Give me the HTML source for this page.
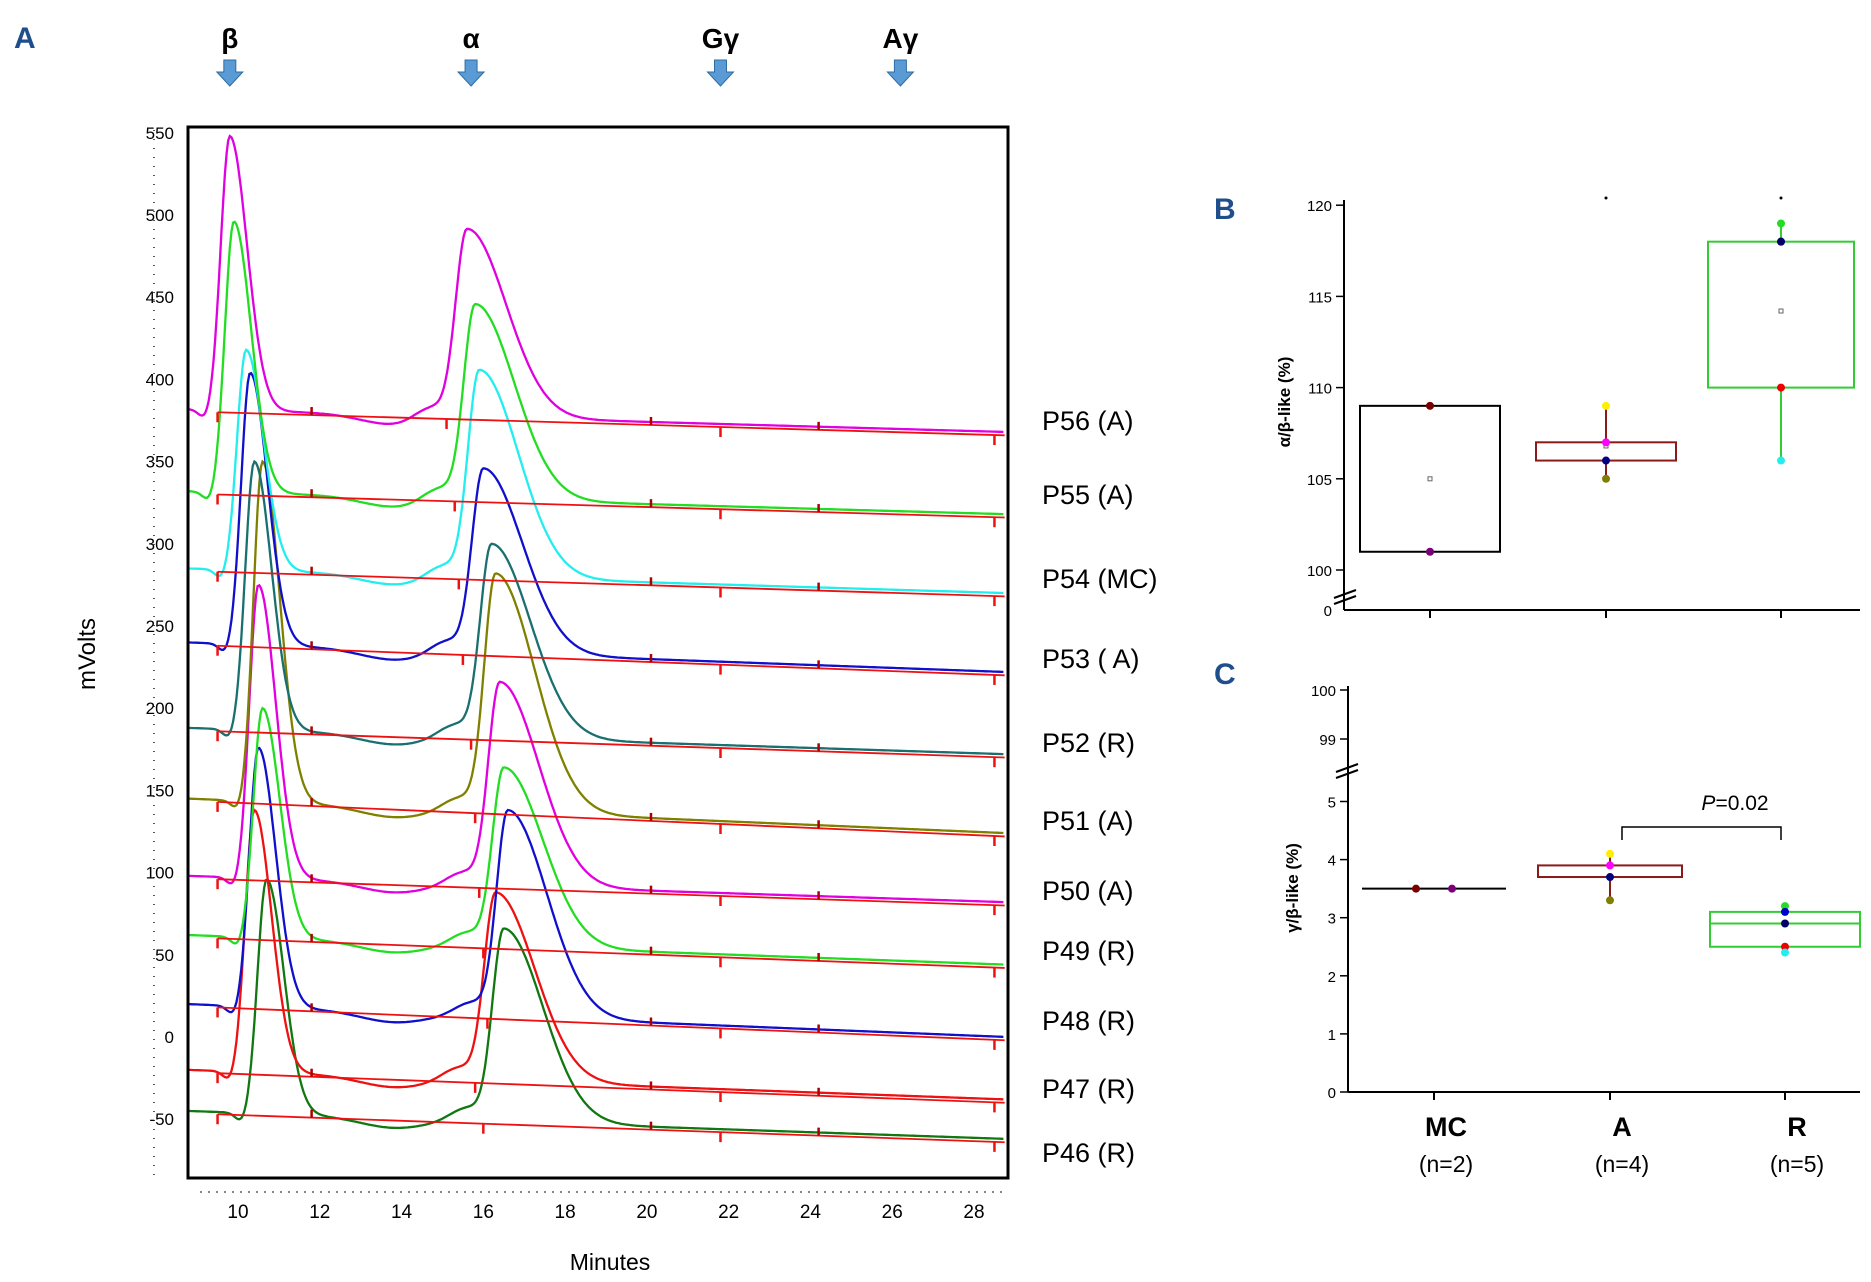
<!DOCTYPE html>
<html><head><meta charset="utf-8">
<style>
body{margin:0;background:#fff;}
svg{display:block;font-family:"Liberation Sans",sans-serif;}
</style></head>
<body>
<svg id="fig" width="1871" height="1282" viewBox="0 0 1871 1282">
<text x="14" y="48" font-size="30" font-weight="bold" fill="#1f4e8c">A</text>
<g id="arrows"></g>
<line x1="154" y1="130" x2="154" y2="1180" stroke="#555" stroke-width="2" stroke-dasharray="1,8"/>
<line x1="200" y1="1192" x2="1006" y2="1192" stroke="#888" stroke-width="2" stroke-dasharray="2,6"/>
<g id="aaxes"></g>
<g id="traces"></g>
<rect x="188" y="127" width="820" height="1051" fill="none" stroke="#000" stroke-width="3"/>
<text x="95" y="654" font-size="24" text-anchor="middle" transform="rotate(-90 95 654)">mVolts</text>
<text x="610" y="1270" font-size="23" text-anchor="middle">Minutes</text>
<g id="slabels"></g>

<text x="1214" y="219" font-size="30" font-weight="bold" fill="#1f4e8c">B</text>
<text x="1214" y="684" font-size="30" font-weight="bold" fill="#1f4e8c">C</text>
<g id="pb"></g>
<g id="pc"></g>
</svg>
<script>
// ---------- Panel A data ----------
const sampleLabels=["P56 (A)","P55 (A)","P54 (MC)","P53 ( A)","P52 (R)","P51 (A)","P50 (A)","P49 (R)","P48 (R)","P47 (R)","P46 (R)"];
const baseStart=[382,332,285,240,188,145,98,62,20,-20,-45];
const baseEnd=[368,318,270,222,172,124,82,44,0,-38,-62];
const betaTime=[9.8,9.9,10.2,10.3,10.4,10.6,10.5,10.6,10.5,10.4,10.7];
const betaHeight=[548,496,418,404,350,350,275,200,176,138,96];
const alphaTime=[15.6,15.8,15.9,16.0,16.2,16.3,16.4,16.5,16.6,16.3,16.5];
const alphaHeight=[492,446,406,346,300,282,216,164,138,88,66];
const yTicksA=[550,500,450,400,350,300,250,200,150,100,50,0,-50];
const xTicksA=[10,12,14,16,18,20,22,24,26,28];
const markerLabels=["β","α","Gγ","Aγ"];
const markerTimes=[9.8,15.7,21.8,26.2];
const traceColors=["#e000e0","#22dd22","#22eeee","#1010cc","#1a7070","#808000","#e000e0","#22dd22","#1010cc","#ee1111","#117711"];

const NS="http://www.w3.org/2000/svg";
function mk(tag,attrs,parent){const e=document.createElementNS(NS,tag);for(const k in attrs)e.setAttribute(k,attrs[k]);parent.appendChild(e);return e;}
const xA=t=>238+(t-10)*(736/18);
const yA=v=>1037-v*(82.2/50);

const aaxes=document.getElementById('aaxes');
yTicksA.forEach(v=>{const t=mk('text',{x:174,y:yA(v)+6,'font-size':17,'text-anchor':'end'},aaxes);t.textContent=v;

});
xTicksA.forEach(v=>{const t=mk('text',{x:xA(v),y:1218,'font-size':19,'text-anchor':'middle'},aaxes);t.textContent=v;

});

const arrows=document.getElementById('arrows');
markerLabels.forEach((l,i)=>{const x=xA(markerTimes[i]);
const t=mk('text',{x:x,y:48,'font-size':28,'font-weight':'bold','text-anchor':'middle'},arrows);t.textContent=l;


const p=mk('path',{d:`M${x-6} 60 h12 v12 h7 l-13 14 l-13 -14 h7 z`,fill:'#5b9bd5',stroke:'#2e6da4','stroke-width':1},arrows);

});

function g(t,mu,sl,sr){const s=t<mu?sl:sr;return Math.exp(-0.5*((t-mu)/s)**2);}
const traces=document.getElementById('traces');
const slabels=document.getElementById('slabels');
const tEnd=28.75;
for(let i=sampleLabels.length-1;i>=0;i--){
  const base=t=>baseStart[i]+(baseEnd[i]-baseStart[i])*(t-8.8)/20;
  let d="";
  for(let t=8.8;t<=tEnd;t+=0.04){
    let v=base(t);
    v+=(betaHeight[i]-base(betaTime[i]))*g(t,betaTime[i],0.22,0.42);
    v+=(alphaHeight[i]-base(alphaTime[i]))*g(t,alphaTime[i],0.28,0.95);
    v+=8*g(t,alphaTime[i]-0.9,0.4,0.3);
    v-=6*g(t,13.8,0.8,0.8);
    v-=6*g(t,betaTime[i]-0.6,0.15,0.15);
    d+=(d?"L":"M")+xA(t).toFixed(1)+" "+yA(v).toFixed(1);
  }
  const p=mk('path',{d:d,fill:'none',stroke:traceColors[i],'stroke-width':2.3},traces);
  
  
  const b1=yA(baseStart[i]-2), b2=yA(baseEnd[i]-2);
  const r=mk('line',{x1:xA(9.5),y1:b1,x2:xA(tEnd),y2:b2,stroke:'#ee1111','stroke-width':1.8},traces);
  
  
  [9.5,11.8,alphaTime[i]-0.5,20.1,21.8,24.2,28.5].forEach((tt,k)=>{const yy=b1+(b2-b1)*(tt-9.5)/(tEnd-9.5);
    const tk=mk('line',{x1:xA(tt),y1:yy+(k%2?-8:0),x2:xA(tt),y2:yy+(k%2?0:10),stroke:k%2?'#aa0000':'#ee1111','stroke-width':2.5},traces);
    
    });
  const lt=mk('text',{x:1042,y:[420,494,578,658,742,820,890,950,1020,1088,1152][i]+10,'font-size':27},slabels);lt.textContent=sampleLabels[i];
  
  
}

// ---------- Panels B & C data ----------
const groups=["MC","A","R"];
const groupN=["(n=2)","(n=4)","(n=5)"];
const bQ1=[101,106,110], bQ3=[109,107,118], bMin=[101,105,106], bMax=[109,109,119], bMean=[105,106.8,114.2];
const bPoints=[[109,101],[109,107,106,105],[119,118,118,110,106]];
const cQ1=[3.5,3.7,2.5], cQ3=[3.5,3.9,3.1], cMed=[3.5,3.7,2.9], cMin=[3.5,3.3,2.4], cMax=[3.5,4.1,3.2];
const cPoints=[[3.5,3.5],[4.1,3.9,3.7,3.3],[3.2,3.1,2.9,2.5,2.4]];
const bTicks=[100,105,110,115,120];
const cTicks=[0,1,2,3,4,5];
const boxColors=["#000","#8b1a1a","#33cc33"];
const ptColors=[["#7a0000","#7a007a"],["#ffee00","#ff00ff","#000080","#808000"],["#22dd22","#0000cc","#000066","#ee0000","#22eeee"]];
const gx=[1430,1606,1781];
const boxHalf=[70,70,73];

const yB=v=>570-18.24*(v-100);
const yC=v=>1092-58.1*v;

const pb=document.getElementById('pb');
mk('line',{x1:1344,y1:200,x2:1344,y2:610,stroke:'#000','stroke-width':2},pb);
mk('line',{x1:1344,y1:610,x2:1860,y2:610,stroke:'#000','stroke-width':2},pb);
mk('path',{d:'M1334 598 l22 -8 M1334 604 l22 -8',stroke:'#000','stroke-width':2,fill:'none'},pb);
let t0=mk('text',{x:1332,y:616,'font-size':15,'text-anchor':'end'},pb);t0.textContent="0";
bTicks.forEach(v=>{mk('line',{x1:1336,y1:yB(v),x2:1344,y2:yB(v),stroke:'#000','stroke-width':1.5},pb);
const t=mk('text',{x:1332,y:yB(v)+6,'font-size':15,'text-anchor':'end'},pb);t.textContent=v;

});
gx.forEach(x=>mk('line',{x1:x,y1:610,x2:x,y2:618,stroke:'#000','stroke-width':2},pb));
let tb=mk('text',{x:1290,y:402,'font-size':17,'font-weight':'bold','text-anchor':'middle',transform:'rotate(-90 1290 402)'},pb);tb.textContent="α/β-like (%)";


groups.forEach((gname,i)=>{const x=gx[i],h=boxHalf[i];
  mk('line',{x1:x,y1:yB(bMin[i]),x2:x,y2:yB(bQ1[i]),stroke:boxColors[i],'stroke-width':2},pb);
  mk('line',{x1:x,y1:yB(bQ3[i]),x2:x,y2:yB(bMax[i]),stroke:boxColors[i],'stroke-width':2},pb);
  const r=mk('rect',{x:x-h,y:yB(bQ3[i]),width:2*h,height:yB(bQ1[i])-yB(bQ3[i]),fill:'none',stroke:boxColors[i],'stroke-width':2},pb);
  
  
  mk('rect',{x:x-2,y:yB(bMean[i])-2,width:4,height:4,fill:'none',stroke:'#666','stroke-width':1},pb);
  bPoints[i].forEach((v,k)=>{const c=mk('circle',{cx:x,cy:yB(v),r:4,fill:ptColors[i][k]},pb);
    
    });
});
mk('circle',{cx:1606,cy:198,r:1.5,fill:'#000'},pb);mk('circle',{cx:1781,cy:198,r:1.5,fill:'#000'},pb);

const pc=document.getElementById('pc');
mk('line',{x1:1348,y1:686,x2:1348,y2:1092,stroke:'#000','stroke-width':2},pc);
mk('line',{x1:1348,y1:1092,x2:1860,y2:1092,stroke:'#000','stroke-width':2},pc);
mk('path',{d:'M1336 772 l22 -8 M1336 778 l22 -8',stroke:'#000','stroke-width':2,fill:'none'},pc);
[[100,690],[99,739]].forEach(([v,y])=>{mk('line',{x1:1340,y1:y,x2:1348,y2:y,stroke:'#000','stroke-width':1.5},pc);
const t=mk('text',{x:1336,y:y+6,'font-size':15,'text-anchor':'end'},pc);t.textContent=v;});
cTicks.forEach(v=>{mk('line',{x1:1340,y1:yC(v),x2:1348,y2:yC(v),stroke:'#000','stroke-width':1.5},pc);
const t=mk('text',{x:1336,y:yC(v)+6,'font-size':15,'text-anchor':'end'},pc);t.textContent=v;

});
let tc=mk('text',{x:1298,y:888,'font-size':17,'font-weight':'bold','text-anchor':'middle',transform:'rotate(-90 1298 888)'},pc);tc.textContent="γ/β-like (%)";


groups.forEach((gname,i)=>{const x=gx[i]+4,h=boxHalf[i]+2;
  mk('line',{x1:x,y1:1092,x2:x,y2:1100,stroke:'#000','stroke-width':2},pc);
  mk('line',{x1:x,y1:yC(cMin[i]),x2:x,y2:yC(cQ1[i]),stroke:boxColors[i],'stroke-width':2},pc);
  mk('line',{x1:x,y1:yC(cQ3[i]),x2:x,y2:yC(cMax[i]),stroke:boxColors[i],'stroke-width':2},pc);
  const r=mk('rect',{x:x-h,y:yC(cQ3[i]),width:2*h,height:yC(cQ1[i])-yC(cQ3[i]),fill:'none',stroke:boxColors[i],'stroke-width':2},pc);
  
  
  mk('line',{x1:x-h,y1:yC(cMed[i]),x2:x+h,y2:yC(cMed[i]),stroke:boxColors[i],'stroke-width':2},pc);
  cPoints[i].forEach((v,k)=>{const cx=i===0?x+(k?18:-18):x;const c=mk('circle',{cx:cx,cy:yC(v),r:4,fill:ptColors[i][k]},pc);
    
    });
  const l1=mk('text',{x:gx[i]+16,y:1136,'font-size':27,'font-weight':'bold','text-anchor':'middle'},pc);l1.textContent=gname;
  
  
  const l2=mk('text',{x:gx[i]+16,y:1172,'font-size':23,'text-anchor':'middle'},pc);l2.textContent=groupN[i];
  
  
});
const br=mk('path',{d:'M1622 840 V827 H1781 V840',fill:'none',stroke:'#000','stroke-width':1.5},pc);


const pt=mk('text',{x:1735,y:810,'font-size':21,'text-anchor':'middle'},pc);
pt.innerHTML='<tspan font-style="italic">P</tspan>=0.02';


</script>
</body></html>
